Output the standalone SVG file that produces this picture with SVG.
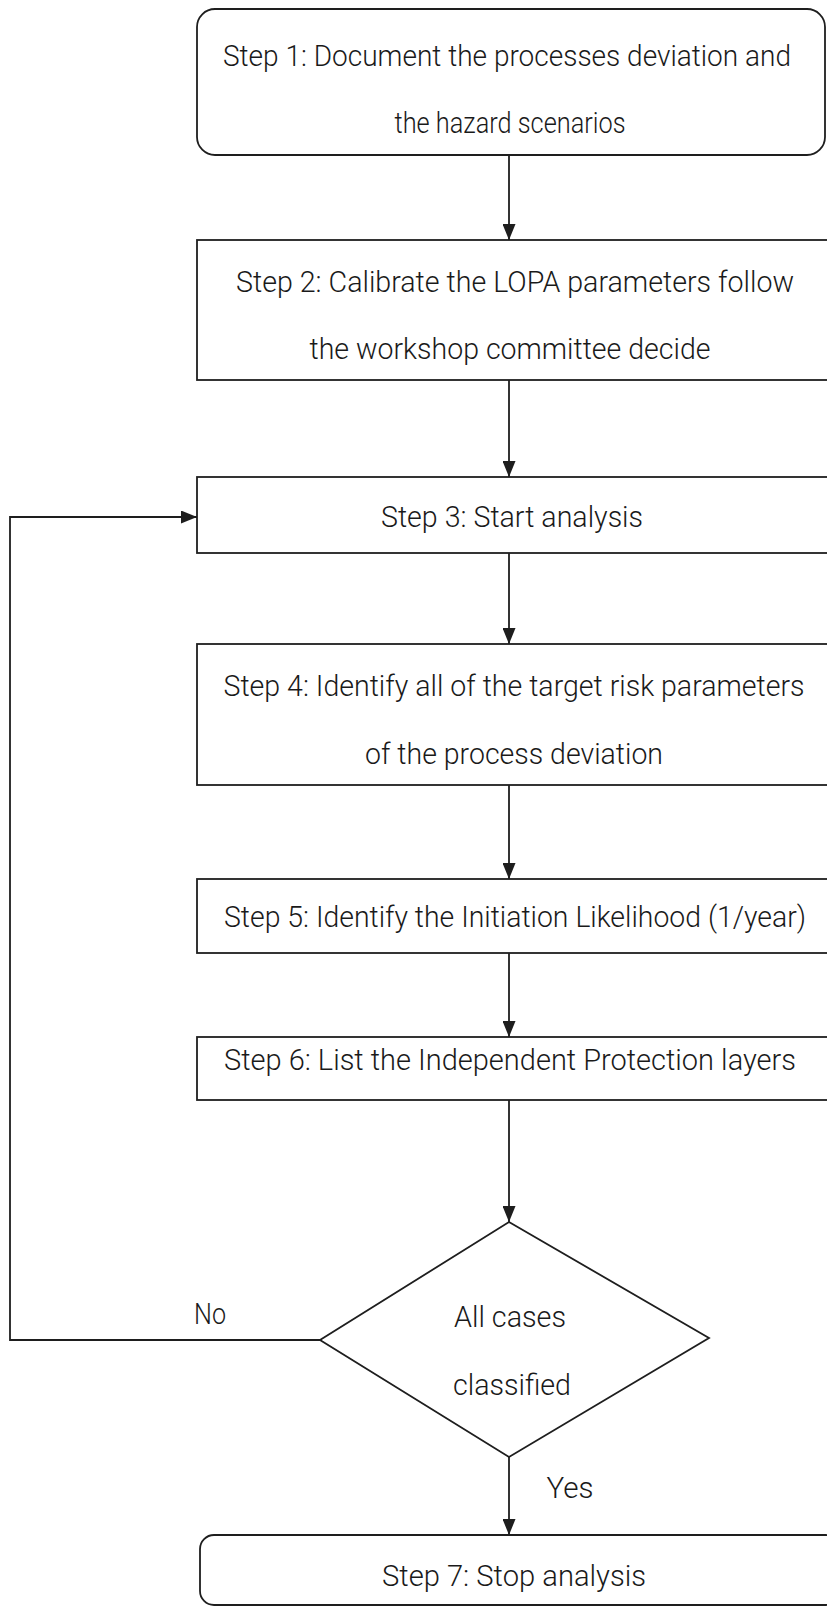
<svg xmlns="http://www.w3.org/2000/svg" width="827" height="1607" viewBox="0 0 827 1607">
  <style>
    .box { fill: #ffffff; stroke: #1e1e1e; stroke-width: 1.8; }
    .lbl { font-family: Roboto, "Liberation Sans", Arial, sans-serif; font-weight: 300; font-size: 29px; fill: #1a1a1a; text-anchor: middle; }
    .wire { fill: none; stroke: #1e1e1e; stroke-width: 1.8; }
  </style>
  <defs>
    <marker id="arrow" viewBox="0 0 16 13" refX="16" refY="6.5" markerWidth="16" markerHeight="13" markerUnits="userSpaceOnUse" orient="auto">
      <path d="M0,0 L16,6.5 L0,13 Z" fill="#1e1e1e"/>
    </marker>
  </defs>
  <rect width="827" height="1607" fill="#ffffff"/>

  <!-- connectors -->
  <g id="connectors">
    <line class="wire" x1="509" y1="155" x2="509" y2="240" marker-end="url(#arrow)"/>
    <line class="wire" x1="509" y1="380" x2="509" y2="477" marker-end="url(#arrow)"/>
    <line class="wire" x1="509" y1="553" x2="509" y2="644" marker-end="url(#arrow)"/>
    <line class="wire" x1="509" y1="785" x2="509" y2="879" marker-end="url(#arrow)"/>
    <line class="wire" x1="509" y1="953" x2="509" y2="1037" marker-end="url(#arrow)"/>
    <line class="wire" x1="509" y1="1100" x2="509" y2="1222" marker-end="url(#arrow)"/>
    <polyline class="wire" points="320,1340 10,1340 10,517 197,517" marker-end="url(#arrow)"/>
    <line class="wire" x1="509" y1="1457" x2="509" y2="1535" marker-end="url(#arrow)"/>
    <text class="lbl" x="210" y="1324" textLength="32" lengthAdjust="spacingAndGlyphs">No</text>
    <text class="lbl" x="570" y="1498" textLength="47" lengthAdjust="spacingAndGlyphs">Yes</text>
  </g>

  <g id="step1">
    <rect class="box" x="197" y="9" width="628" height="146" rx="18" ry="18"/>
    <text class="lbl" x="507" y="66" textLength="568" lengthAdjust="spacingAndGlyphs">Step 1: Document the processes deviation and</text>
    <text class="lbl" x="510" y="133" textLength="231" lengthAdjust="spacingAndGlyphs">the hazard scenarios</text>
  </g>

  <g id="step2">
    <rect class="box" x="197" y="240" width="640" height="140"/>
    <text class="lbl" x="515" y="292" textLength="558" lengthAdjust="spacingAndGlyphs">Step 2: Calibrate the LOPA parameters follow</text>
    <text class="lbl" x="510" y="359" textLength="401" lengthAdjust="spacingAndGlyphs">the workshop committee decide</text>
  </g>

  <g id="step3">
    <rect class="box" x="197" y="477" width="640" height="76"/>
    <text class="lbl" x="512" y="527" textLength="262" lengthAdjust="spacingAndGlyphs">Step 3: Start analysis</text>
  </g>

  <g id="step4">
    <rect class="box" x="197" y="644" width="640" height="141"/>
    <text class="lbl" x="514" y="696" textLength="581" lengthAdjust="spacingAndGlyphs">Step 4: Identify all of the target risk parameters</text>
    <text class="lbl" x="514" y="764" textLength="298" lengthAdjust="spacingAndGlyphs">of the process deviation</text>
  </g>

  <g id="step5">
    <rect class="box" x="197" y="879" width="640" height="74"/>
    <text class="lbl" x="515" y="927" textLength="582" lengthAdjust="spacingAndGlyphs">Step 5: Identify the Initiation Likelihood (1/year)</text>
  </g>

  <g id="step6">
    <rect class="box" x="197" y="1037" width="640" height="63"/>
    <text class="lbl" x="510" y="1070" textLength="572" lengthAdjust="spacingAndGlyphs">Step 6: List the Independent Protection layers</text>
  </g>

  <g id="decision">
    <polygon class="box" points="509,1222 709,1338 509,1457 320,1340"/>
    <text class="lbl" x="510" y="1327" textLength="112" lengthAdjust="spacingAndGlyphs">All cases</text>
    <text class="lbl" x="512" y="1395" textLength="118" lengthAdjust="spacingAndGlyphs">classified</text>
  </g>

  <g id="step7">
    <rect class="box" x="200" y="1535" width="640" height="70" rx="14" ry="14"/>
    <text class="lbl" x="514" y="1586" textLength="264" lengthAdjust="spacingAndGlyphs">Step 7: Stop analysis</text>
  </g>
</svg>
